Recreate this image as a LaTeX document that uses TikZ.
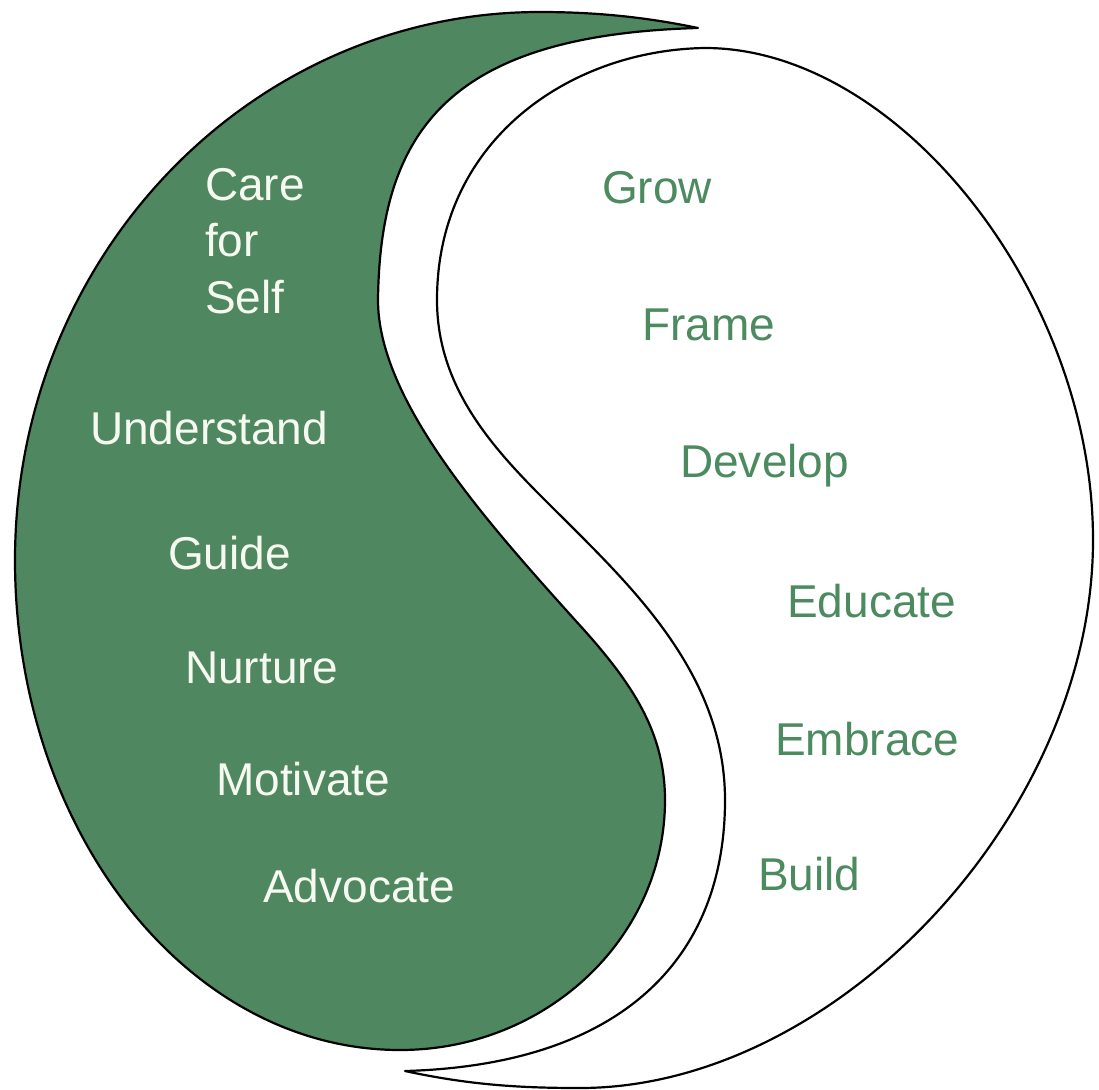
\documentclass[tikz,border=0pt]{standalone}
\usepackage{fontspec}
\setmainfont{Liberation Sans}
\definecolor{leafgreen}{RGB}{79,135,96}
\definecolor{wordgreen}{RGB}{76,138,95}
\definecolor{paleword}{RGB}{246,249,240}
\begin{document}
\begin{tikzpicture}[x=1pt,y=-1pt,
  outline/.style={draw=black,line width=2.2pt,line join=round},
  lefttext/.style={inner sep=0pt,anchor=base west,text=paleword,font=\fontsize{46}{56}\selectfont},
  righttext/.style={inner sep=0pt,anchor=base west,text=wordgreen,font=\fontsize{46}{56}\selectfont}]
\useasboundingbox (0,0) rectangle (1099,1089);

% dark half: outer rim from the top tip round to the bottom, then the S-curve back up
\filldraw[outline,fill=leafgreen]
  (698,28) .. controls (650,18) and (600,12) .. (540,12)
  .. controls (250,12) and (15,257) .. (15,560)
  .. controls (15,830) and (187,1050) .. (400,1050)
  .. controls (546,1050) and (665,938) .. (665,800)
  .. controls (665,730) and (630,680) .. (575,620)
  .. controls (485,520) and (378,400) .. (378,300)
  .. controls (380,130) and (450,35) .. (698,28) -- cycle;

% light half: outer rim from the bottom tip round to the top, then the inner S-curve down
\filldraw[outline,fill=white]
  (405,1071) .. controls (470,1085) and (520,1088) .. (580,1088)
  .. controls (836,1088) and (1093,814) .. (1093,540)
  .. controls (1093,294) and (899,48) .. (705,48)
  .. controls (570,50) and (437,140) .. (437,300)
  .. controls (437,400) and (510,465) .. (570,525)
  .. controls (640,595) and (725,680) .. (725,800)
  .. controls (725,960) and (620,1065) .. (405,1071) -- cycle;

% words on the dark half
\node[lefttext] (care) at (205,200) {Care};
\node[lefttext] (for) at (205,256) {for};
\node[lefttext] (self) at (205,313) {Self};
\node[lefttext] (understand) at (90,444) {Understand};
\node[lefttext] (guide) at (168,569) {Guide};
\node[lefttext] (nurture) at (185,683) {Nurture};
\node[lefttext] (motivate) at (216,795) {Motivate};
\node[lefttext] (advocate) at (263,902) {Advocate};

% words on the light half
\node[righttext] (grow) at (602,203) {Grow};
\node[righttext] (frame) at (642,340) {Frame};
\node[righttext] (develop) at (680,477) {Develop};
\node[righttext] (educate) at (787,617) {Educate};
\node[righttext] (embrace) at (775,755) {Embrace};
\node[righttext] (build) at (758,890) {Build};
\end{tikzpicture}
\end{document}
